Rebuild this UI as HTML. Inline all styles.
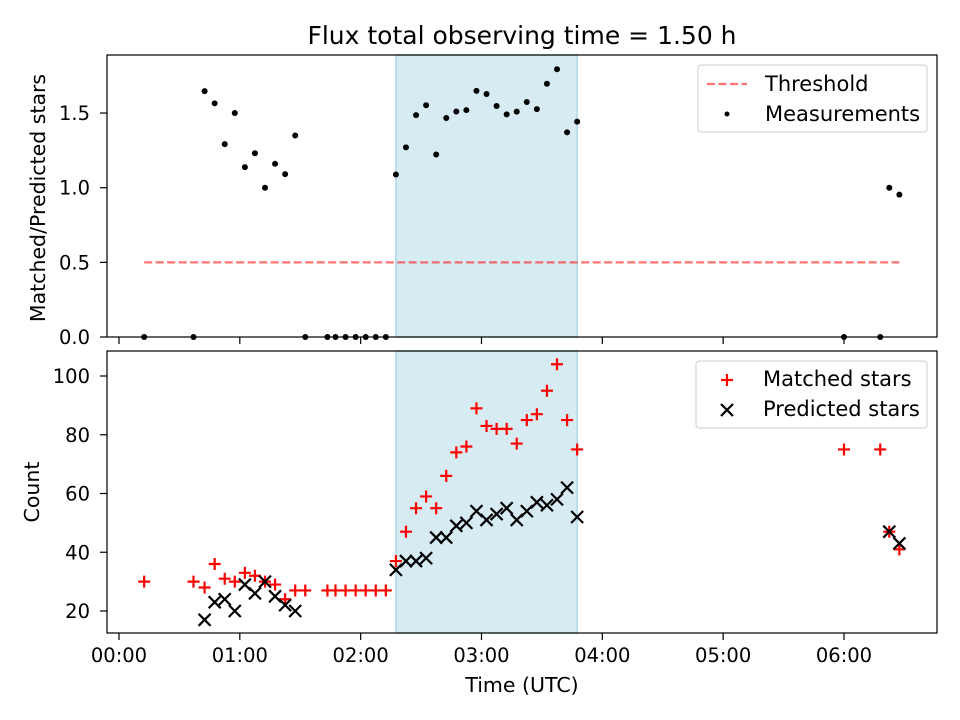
<!DOCTYPE html>
<html><head><meta charset="utf-8"><style>
body{margin:0;background:#fff;}
svg{display:block;font-family:"DejaVu Sans","Liberation Sans",sans-serif;}
</style></head><body>
<svg id="chart" width="960" height="720">
<text x="522" y="44" font-size="25" text-anchor="middle">Flux total observing time = 1.50 h</text>
<g id="topPanel"></g>
<g id="botPanel"></g>
</svg>
<script>
const timesMin = [12.5,37,42.5,47.5,52.5,57.5,62.5,67.5,72.5,77.5,82.5,87.5,92.5,103.5,107.5,112.5,117.5,122.5,127.5,132.5,137.5,142.5,147.5,152.5,157.5,162.5,167.5,172.5,177.5,182.5,187.5,192.5,197.5,202.5,207.5,212.5,217.5,222.5,227.5,360,378,382.5,387.5];
const matched = [30,30,28,36,31,30,33,32,30,29,24,27,27,27,27,27,27,27,27,27,37,47,55,59,55,66,74,76,89,83,82,82,77,85,87,95,104,85,75,75,75,47,41];
const predicted = [0,0,17,23,24,20,29,26,30,25,22,20,0,0,0,0,0,0,0,0,34,37,37,38,45,45,49,50,54,51,53,55,51,54,57,56,58,62,52,0,0,47,43];
const shadeStart = 137.5, shadeEnd = 227.5;
const threshold = 0.5;
const xTickLabels = ["00:00","01:00","02:00","03:00","04:00","05:00","06:00"];
const topTicks = [0,0.5,1.0,1.5];
const botTicks = [20,40,60,80,100];

const NS="http://www.w3.org/2000/svg";
const FS=21, TS=19.5, LS=20.5;
function mk(p,tag,a){const e=document.createElementNS(NS,tag);for(const k in a)e.setAttribute(k,a[k]);p.appendChild(e);return e;}
const L=107,R=937;
const xS=m=>119+(m/60)*120.83;
const yT=v=>337-v*149.3;
const yB=v=>611-(v-20)*2.9375;
const ratio = matched.map((m,i)=>predicted[i]>0?m/predicted[i]:0);
const topG=document.getElementById('topPanel'), botG=document.getElementById('botPanel');

function panel(g,y0,y1,yS,ticks,fmt,showXLabels){
  const sh=mk(g,'rect',{x:xS(shadeStart),y:y0,width:xS(shadeEnd)-xS(shadeStart),height:y1-y0,fill:'#add8e6','fill-opacity':0.5,stroke:'#add8e6','stroke-width':1.5});
  
  
  ticks.forEach(t=>{
    const y=yS(t);
    mk(g,'line',{x1:L-7,x2:L,y1:y,y2:y,stroke:'#000','stroke-width':1.2});
    const tx=mk(g,'text',{x:L-17,y:y+7,'font-size':TS,'text-anchor':'end'});
    tx.textContent=fmt(t);
    
    
  });
  xTickLabels.forEach((lab,i)=>{
    const x=xS(i*60);
    mk(g,'line',{x1:x,x2:x,y1:y1,y2:y1+7,stroke:'#000','stroke-width':1.2});
    if(showXLabels){
      const tx=mk(g,'text',{x:x,y:y1+29,'font-size':TS,'text-anchor':'middle'});
      tx.textContent=lab;
      
      
    }
  });
}
panel(topG,55,337,yT,topTicks,t=>t.toFixed(1),false);
const th=mk(topG,'line',{x1:xS(timesMin[0]),x2:xS(timesMin[timesMin.length-1]),y1:yT(threshold),y2:yT(threshold),stroke:'#ff0000','stroke-opacity':0.55,'stroke-width':2.2,'stroke-dasharray':'8,3.5'});


ratio.forEach((r,i)=>{
  const c=mk(topG,'circle',{cx:xS(timesMin[i]),cy:yT(r),r:3,fill:'#000'});
  
  
});
mk(topG,'rect',{x:L,y:55,width:R-L,height:282,fill:'none',stroke:'#000','stroke-width':1.2});
const yl1=mk(topG,'text',{x:0,y:0,'font-size':LS,'text-anchor':'middle',transform:'translate(45,198) rotate(-90)'});
yl1.textContent='Matched/Predicted stars';


const lg1=mk(topG,'g',{});


mk(lg1,'rect',{x:698,y:65,width:229,height:67,rx:3,fill:'#fff','fill-opacity':0.8,stroke:'#ccc'});
mk(lg1,'line',{x1:707,x2:747,y1:84,y2:84,stroke:'#ff0000','stroke-opacity':0.55,'stroke-width':2.2,'stroke-dasharray':'8,3.5'});
mk(lg1,'circle',{cx:727,cy:114,r:2.5,fill:'#000'});
let t=mk(lg1,'text',{x:765,y:91,'font-size':FS});t.textContent='Threshold';
t=mk(lg1,'text',{x:765,y:121,'font-size':FS});t.textContent='Measurements';

panel(botG,351,633,yB,botTicks,t=>String(t),true);
function plus(g,x,y){return mk(g,'path',{d:`M${x-6},${y}H${x+6}M${x},${y-6}V${y+6}`,stroke:'#ff0000','stroke-width':2.2});}
function cross(g,x,y){return mk(g,'path',{d:`M${x-6},${y-6}L${x+6},${y+6}M${x-6},${y+6}L${x+6},${y-6}`,stroke:'#000','stroke-width':2.2});}
matched.forEach((m,i)=>{
  const e=plus(botG,xS(timesMin[i]),yB(m));
  
  
});
predicted.forEach((p,i)=>{
  if(p<=0)return;
  const e=cross(botG,xS(timesMin[i]),yB(p));
  
  
});
mk(botG,'rect',{x:L,y:351,width:R-L,height:282,fill:'none',stroke:'#000','stroke-width':1.2});
const yl2=mk(botG,'text',{x:0,y:0,'font-size':LS,'text-anchor':'middle',transform:'translate(39,492) rotate(-90)'});
yl2.textContent='Count';


const xl=mk(botG,'text',{x:522,y:692,'font-size':LS,'text-anchor':'middle'});
xl.textContent='Time (UTC)';


const lg2=mk(botG,'g',{});


mk(lg2,'rect',{x:696,y:361,width:231,height:67,rx:3,fill:'#fff','fill-opacity':0.8,stroke:'#ccc'});
plus(lg2,727,380);cross(lg2,727,410);
t=mk(lg2,'text',{x:763,y:386,'font-size':FS});t.textContent='Matched stars';
t=mk(lg2,'text',{x:763,y:416,'font-size':FS});t.textContent='Predicted stars';
</script>
</body></html>
